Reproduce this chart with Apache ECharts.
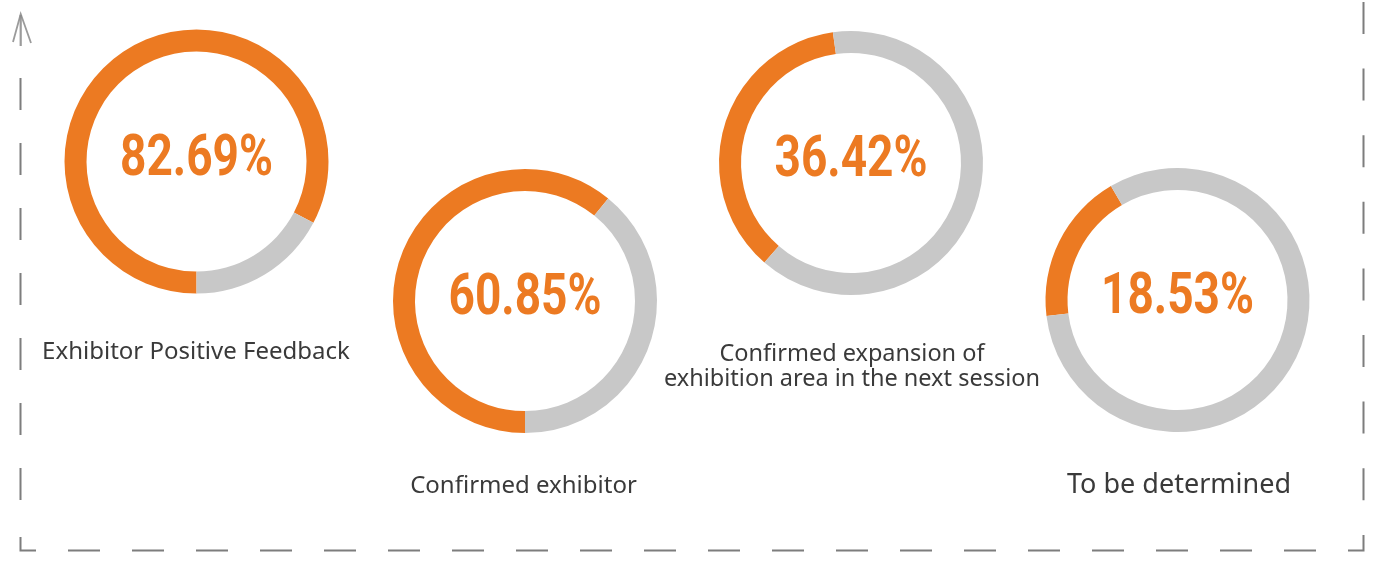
<!DOCTYPE html>
<html>
<head>
<meta charset="utf-8">
<title>Exhibitor survey</title>
<script src="https://cdn.jsdelivr.net/npm/echarts@6/dist/echarts.min.js"></script>
<style>
  html, body { margin: 0; padding: 0; background: #ffffff; }
  #chart { width: 1375px; height: 561px; }
</style>
</head>
<body>
<div id="chart"></div>
<script>
// Survey results, one ring per question
const categories = [
  'Exhibitor Positive Feedback',
  'Confirmed exhibitor',
  'Confirmed expansion of\nexhibition area in the next session',
  'To be determined'
];
const shares = [82.69, 60.85, 36.42, 18.53];

// Layout of each ring and its caption (pixels)
const ringCenters = [[196.5, 161.5], [525, 301], [851, 163], [1177.5, 300]];
const ringStartAngles = [270, 270, 229, 187];
const captionPos = [[196, 352], [523.5, 486], [852, 367], [1179, 485]];
const captionSize = [24, 24, 23.5, 27];

const ORANGE = '#ec7a22';
const GREY = '#c8c8c8';
const INK = '#3a3a3a';
const FRAME = '#7d7d7d';

// Big percentage figures: condensed look made by squeezing a bold face horizontally
const FIG_FONT = "bold 57px Roboto, 'Liberation Sans', sans-serif";
const FIG_WIDTH = 153;
const measureCtx = document.createElement('canvas').getContext('2d');
measureCtx.font = FIG_FONT;
const figScale = FIG_WIDTH / measureCtx.measureText('82.69%').width;

const series = shares.map((v, i) => ({
  type: 'pie',
  center: ringCenters[i],
  radius: [110, 132],
  startAngle: ringStartAngles[i],
  clockwise: true,
  silent: true,
  avoidLabelOverlap: false,
  label: { show: false },
  labelLine: { show: false },
  emphasis: { disabled: true },
  data: [
    { value: v, name: categories[i], itemStyle: { color: ORANGE } },
    { value: +(100 - v).toFixed(2), name: 'rest', itemStyle: { color: GREY } }
  ]
}));

const figures = shares.map((v, i) => ({
  type: 'text',
  x: ringCenters[i][0],
  y: ringCenters[i][1] - 1,
  scaleX: figScale,
  silent: true,
  style: {
    text: v.toFixed(2) + '%',
    fill: ORANGE,
    font: FIG_FONT,
    align: 'center',
    verticalAlign: 'middle'
  }
}));

// Captions under / beside each ring
const captions = categories.map((c, i) => ({
  type: 'text',
  x: captionPos[i][0],
  y: captionPos[i][1],
  silent: true,
  style: {
    text: c,
    fill: INK,
    font: captionSize[i] + "px 'Noto Sans', 'Open Sans', sans-serif",
    align: 'center',
    verticalAlign: 'middle',
    lineHeight: 25.5
  }
}));

// Dashed frame around the panel
const dash = { stroke: FRAME, lineWidth: 2 };
const frame = [
  { type: 'line', silent: true, shape: { x1: 20.5, y1: 78, x2: 20.5, y2: 505 }, style: Object.assign({ lineDash: [32, 33] }, dash) },
  { type: 'line', silent: true, shape: { x1: 1363.5, y1: 2, x2: 1363.5, y2: 505 }, style: Object.assign({ lineDash: [32, 34.6] }, dash) },
  { type: 'line', silent: true, shape: { x1: 68, y1: 550.5, x2: 1320, y2: 550.5 }, style: Object.assign({ lineDash: [32, 32] }, dash) },
  { type: 'polyline', silent: true, shape: { points: [[20.5, 537], [20.5, 550.5], [36, 550.5]] }, style: Object.assign({ fill: null }, dash) },
  { type: 'polyline', silent: true, shape: { points: [[1348, 550.5], [1363.5, 550.5], [1363.5, 535]] }, style: Object.assign({ fill: null }, dash) },
  { type: 'polyline', silent: true, shape: { points: [[13, 42], [20.7, 14], [31, 43]] }, style: { stroke: '#8a8a8a', lineWidth: 1.8, fill: null, opacity: 0.85 } },
  { type: 'line', silent: true, shape: { x1: 20.7, y1: 15, x2: 20.7, y2: 46 }, style: { stroke: '#8a8a8a', lineWidth: 2.2, opacity: 0.85 } }
];

const chart = echarts.init(document.getElementById('chart'), null, { renderer: 'canvas' });
chart.setOption({
  animation: false,
  backgroundColor: '#ffffff',
  series: series,
  graphic: { elements: frame.concat(captions, figures) }
});
</script>
</body>
</html>
